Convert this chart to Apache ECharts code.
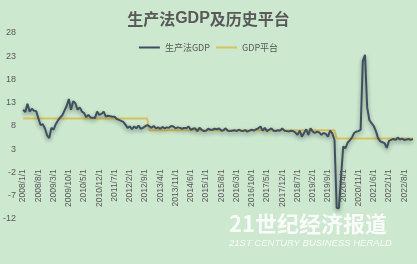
<!DOCTYPE html>
<html>
<head>
<meta charset="utf-8">
<script src="https://cdn.jsdelivr.net/npm/echarts@6/dist/echarts.min.js"></script>
<style>
html,body{margin:0;padding:0;background:#cce8cf;}
#chart{width:417px;height:264px;}
</style>
</head>
<body>
<div id="chart"></div>
<script>
// Monthly periods: 2008/1 .. 2022/12
var startYear = 2008;
var monthCount = 180;

// 生产法GDP (monthly, %), one row per year
var gdp2008 = [11.5, 11.0, 12.8, 11.1, 11.7, 11.3, 11.2, 9.7, 8.2, 8.4, 7.5, 6.0];
var gdp2009 = [5.4, 7.6, 7.2, 8.4, 9.2, 9.8, 10.3, 11.3, 12.3, 13.8, 11.5, 13.3];
var gdp2010 = [12.9, 11.5, 12.0, 11.1, 10.8, 9.9, 10.4, 9.8, 9.8, 9.7, 11.1, 10.4];
var gdp2011 = [10.6, 11.1, 10.0, 10.2, 10.1, 10.0, 10.0, 9.5, 9.3, 9.1, 8.9, 8.3];
var gdp2012 = [7.6, 7.9, 7.3, 7.9, 7.5, 8.1, 7.4, 7.6, 7.9, 8.2, 7.9, 7.6];
var gdp2013 = [8.0, 7.5, 7.7, 7.4, 7.8, 7.5, 7.7, 7.6, 8.0, 7.9, 7.5, 7.7];
var gdp2014 = [7.6, 7.4, 7.6, 7.5, 7.9, 7.2, 7.4, 7.5, 6.9, 7.6, 7.2, 6.9];
var gdp2015 = [7.0, 7.4, 7.2, 7.2, 7.4, 7.3, 7.5, 7.0, 7.1, 7.5, 7.0, 6.9];
var gdp2016 = [7.0, 7.1, 6.9, 7.2, 7.0, 6.9, 7.1, 6.8, 7.0, 7.2, 7.0, 7.3];
var gdp2017 = [7.5, 7.9, 7.0, 7.6, 6.9, 7.2, 7.5, 7.0, 6.9, 7.1, 7.0, 7.5];
var gdp2018 = [7.0, 6.9, 6.8, 7.0, 6.9, 6.6, 6.1, 7.0, 5.7, 6.5, 7.3, 6.1];
var gdp2019 = [7.5, 6.8, 6.5, 6.8, 6.6, 6.1, 6.5, 6.3, 5.7, 7.0, 6.4, 5.0];
var gdp2020 = [-9.6, -9.7, -3.0, 3.6, 3.2, 4.4, 4.9, 5.5, 6.5, 6.8, 6.9, 7.2];
var gdp2021 = [22.0, 23.3, 12.0, 9.3, 8.6, 8.0, 6.9, 5.4, 4.7, 4.5, 4.3, 3.3];
var gdp2022 = [4.8, 5.0, 5.2, 5.0, 5.5, 5.1, 5.3, 5.0, 5.1, 5.2, 5.0, 5.2];

// GDP平台 (historical plateaus): level and last month index of each plateau
var platformLevels = [9.6, 7.1, 5.3];
var platformEndIndex = [57, 143, 179];

// Y tick labels
var yMin = -12, yMax = 28, yStep = 5;

var gdpValues = [].concat(gdp2008, gdp2009, gdp2010, gdp2011, gdp2012, gdp2013, gdp2014,
  gdp2015, gdp2016, gdp2017, gdp2018, gdp2019, gdp2020, gdp2021, gdp2022);

var categories = [];
for (var i = 0; i < monthCount; i++) {
  var y = startYear + Math.floor(i / 12), m = (i % 12) + 1;
  categories.push(y + '/' + m + '/1');
}
var platformValues = [];
for (var i = 0; i < monthCount; i++) {
  var k = 0;
  while (i > platformEndIndex[k]) k++;
  platformValues.push(platformLevels[k]);
}

var gridTop = 33, gridBottom = 45, H = 264;
var plotH = H - gridTop - gridBottom;
// move the category axis up to the zero line of the value axis
var zeroOffset = -plotH * (0 - yMin) / (yMax - yMin);

var chart = echarts.init(document.getElementById('chart'), null, {renderer: 'canvas'});
var txt = '#595959';
chart.setOption({
  backgroundColor: '#cce8cf',
  animation: false,
  title: {
    text: '{a|生产法}{b|GDP}{a|及历史平台}',
    left: 'center', top: 6,
    textStyle: {
      rich: {
        a: {fontSize: 16, color: txt, fontFamily: 'Noto Sans CJK SC'},
        b: {fontSize: 16, color: txt, fontWeight: 'bold', fontFamily: 'Liberation Sans'}
      }
    }
  },
  legend: {
    top: 38, left: 'center', itemWidth: 21, itemHeight: 2, itemGap: 6, icon: 'rect',
    textStyle: {fontSize: 9, color: txt, fontFamily: 'Noto Sans CJK SC'},
    data: ['生产法GDP', 'GDP平台']
  },
  grid: {left: 22, right: 3, top: gridTop, bottom: gridBottom},
  xAxis: {
    type: 'category', data: categories, boundaryGap: true, position: 'bottom', offset: zeroOffset,
    axisLine: {show: false, onZero: false},
    axisTick: {show: false},
    axisLabel: {interval: 6, rotate: 90, fontSize: 8.5, color: txt, margin: 6, fontFamily: 'Liberation Sans'}
  },
  yAxis: {
    type: 'value', min: yMin, max: yMax, interval: yStep,
    splitLine: {show: false}, axisLine: {show: false}, axisTick: {show: false},
    axisLabel: {fontSize: 9, color: txt, margin: 6, fontFamily: 'Liberation Sans'}
  },
  series: [
    {
      name: '生产法GDP', type: 'line', data: gdpValues, symbol: 'none', z: 3,
      lineStyle: {color: '#3f4f60', width: 2, shadowColor: 'rgba(0,0,0,0.4)', shadowBlur: 4, shadowOffsetY: 2},
      itemStyle: {color: '#3f4f60'}
    },
    {
      name: 'GDP平台', type: 'line', data: platformValues, symbol: 'none', z: 2,
      lineStyle: {color: '#d8c25a', width: 2},
      itemStyle: {color: '#d8c25a'}
    }
  ],
  graphic: [
    {type: 'text', left: 229, top: 213, silent: true, z: 10,
     style: {text: '21世纪经济报道', font: 'bold 22px "Noto Sans CJK SC"', fill: 'rgba(255,255,255,0.88)'}},
    {type: 'text', left: 229, top: 238, silent: true, z: 10,
     style: {text: '21ST CENTURY BUSINESS HERALD', font: 'italic 9.5px "Liberation Sans"', fill: 'rgba(255,255,255,0.88)'}}
  ]
});
</script>
</body>
</html>
